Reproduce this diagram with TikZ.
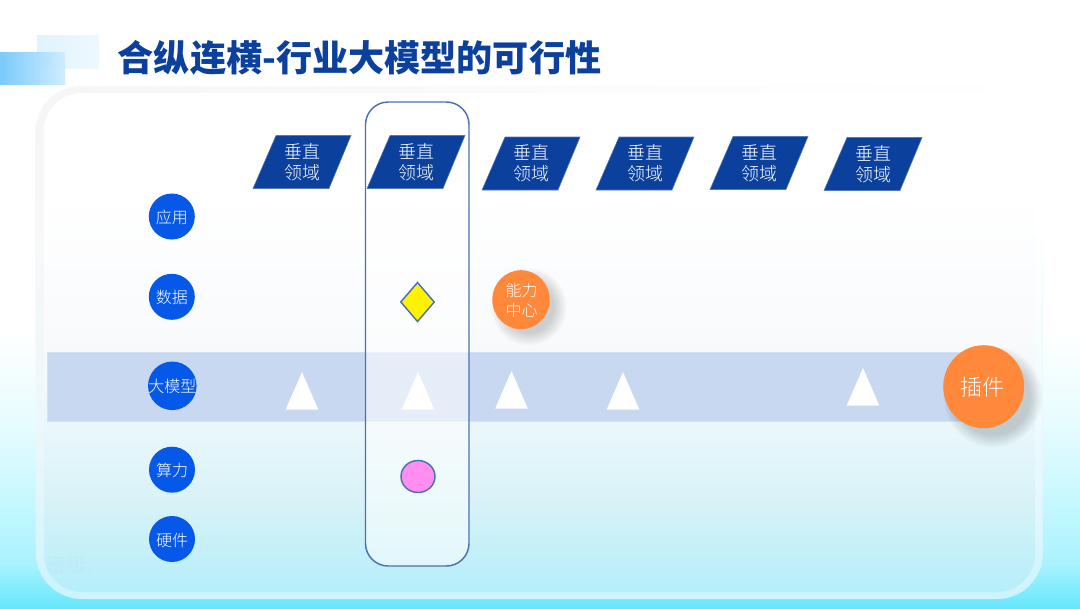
\documentclass[tikz,border=0pt]{standalone}
\usepackage{fontspec}
\usetikzlibrary{fadings}
\setmainfont{Noto Sans CJK SC}
\newfontfamily\thincjk{Noto Sans CJK SC Light}
\definecolor{navy}{HTML}{0B409C}
\definecolor{roundblue}{HTML}{0659E8}
\definecolor{accent}{HTML}{FF883A}
\definecolor{edgeblue}{HTML}{4A72B0}
\definecolor{bandblue}{HTML}{C7D8F0}
\definecolor{banddege}{HTML}{D5E2F5}
\definecolor{HTMLa}{HTML}{66E6FB}
\definecolor{HTMLb}{HTML}{7AEBFC}
\definecolor{HTMLc}{HTML}{AAF2FE}
\definecolor{HTMLd}{HTML}{C8F8FF}
\definecolor{HTMLe}{HTML}{E8FCFF}
\pgfdeclareverticalshading{bgshade}{100bp}{
 color(0bp)=(HTMLa); color(25bp)=(HTMLa); color(26.1bp)=(HTMLb); color(28.7bp)=(HTMLc); color(34.1bp)=(HTMLd); color(40.5bp)=(HTMLe); color(47.9bp)=(white); color(100bp)=(white)}
\definecolor{ringa}{HTML}{CBF4FD}
\definecolor{ringb}{HTML}{E5F9FE}
\definecolor{ringc}{HTML}{F0FCFF}
\pgfdeclareverticalshading{ringshade}{100bp}{
 color(0bp)=(ringa); color(25bp)=(ringa); color(40bp)=(ringb); color(52bp)=(ringc); color(62bp)=(white); color(100bp)=(white)}
\definecolor{pana}{HTML}{B5EEFA}
\definecolor{panb}{HTML}{D7F2F7}
\definecolor{panc}{HTML}{E8F7FB}
\definecolor{pand}{HTML}{F8FAFC}
\pgfdeclareverticalshading{panelshade}{100bp}{
 color(0bp)=(pana); color(25bp)=(pana); color(34bp)=(panb); color(41bp)=(panc); color(50bp)=(pand); color(65bp)=(white); color(100bp)=(white)}
\definecolor{ringgrey}{HTML}{F6F6F6}
\definecolor{backa}{HTML}{E0F3FE}
\definecolor{backb}{HTML}{EEF8FE}
\definecolor{fronta}{HTML}{6FC6FC}
\definecolor{frontb}{HTML}{CDEDFE}
\tikzset{
 vertbox/.style={fill=navy,draw=navy!70!white,line width=0.4pt},
 vertlabel/.style={text=white,font=\thincjk\fontsize{13.5pt}{15.8pt}\selectfont,align=center,inner sep=0pt},
 layerdot/.style={circle,fill=roundblue,minimum size=34.5pt,inner sep=0pt,text=white,text height=10.5pt,text depth=0pt,font=\thincjk\fontsize{12pt}{14pt}\selectfont},
 whitetri/.style={fill=white,draw=none},
 outlined/.style={draw=edgeblue,line width=1.1pt}
}
\begin{document}
\begin{tikzpicture}[x=0.75pt,y=-0.75pt]
\useasboundingbox (0,0) rectangle (1080,608);
% background
\shade[shading=bgshade] (0,0) rectangle (1080,608);
% panel
\shade[shading=ringshade,rounded corners=34.5pt] (36,86) rectangle (1043,599);
\shade[left color=ringgrey,right color=white,path fading=south,rounded corners=34.5pt] (36,86) rectangle (1043,599);
\shade[shading=panelshade,rounded corners=28.5pt] (44,93) rectangle (1035,592);
% decoration
\shade[left color=backa,right color=backb] (37,35) rectangle (99,68);
\shade[left color=fronta,right color=frontb,opacity=0.92] (0,52) rectangle (65,84);
% title
\node[anchor=west,inner sep=0pt,text=navy,font=\fontsize{27.1pt}{30pt}\selectfont\bfseries] (title) at (117.5,58) {合纵连横-行业大模型的可行性};
% faint text
\node[anchor=west,inner sep=0pt,text=black,opacity=0.015,font=\fontsize{15pt}{17pt}\selectfont] (secret) at (46,565) {密级:};
% band
\fill[bandblue,draw=banddege,line width=0.6pt] (47,352) rectangle (965,421);
% triangles
\foreach \ax/\ay in {302/372,418/372,511.5/371,623/372,863/368}
  \fill[whitetri] (\ax,\ay) -- (\ax+16.3,\ay+37.5) -- (\ax-16.3,\ay+37.5) -- cycle;
% column
\draw[edgeblue,line width=1.1pt,fill=white,fill opacity=0.55,rounded corners=17pt] (365.5,102) rectangle (469,566);
% parallelograms and labels
\foreach \n/\cx/\cy in {a/302/162,b/416/162,c/531/163.5,d/645/163.5,e/759/163,f/873/164}{
  \filldraw[vertbox] (\cx-49,\cy+26.5) -- (\cx-26,\cy-26.5) -- (\cx+49,\cy-26.5) -- (\cx+27,\cy+26.5) -- cycle;
  \node[vertlabel] (v\n) at (\cx+0.5,\cy) {垂直\\领域};
}
% layer dots
\node[layerdot] (app) at (171.8,216.5) {应用};
\node[layerdot] (data) at (171.8,296.8) {数据};
\node[layerdot,minimum size=36.4pt] (llm) at (172.3,385.8) {\makebox[0pt]{大模型}};
\node[layerdot] (comp) at (172,469.7) {算力};
\node[layerdot] (hw) at (172,539) {硬件};
% shapes in column
\draw[outlined,fill=yellow] (417.5,282.5) -- (434.2,302) -- (417.5,321.5) -- (400.8,302) -- cycle;
\draw[outlined,fill={rgb,255:red,255;green,142;blue,240}] (418,476.5) ellipse (17 and 16);
% shadows
\foreach \r in {0,1.5,...,12}{
  \fill[black,opacity=0.018] (529,307) ellipse (28.7+\r-3 and 29.5+\r-3);
  \fill[black,opacity=0.018] (993,397) ellipse (40.5+\r-3 and 41.5+\r-3);
}
\fill[accent] (521,299.7) ellipse (28.7 and 29.5);
\node[inner sep=0pt,text=white,align=center,font=\thincjk\fontsize{12pt}{15pt}\selectfont] (center) at (521.5,300.5) {能力\\中心};
\fill[accent] (983.7,386.7) ellipse (40.5 and 41.5);
\node[inner sep=0pt,text=white,font=\thincjk\fontsize{16.5pt}{18pt}\selectfont] (plugin) at (982.5,387) {插件};
\end{tikzpicture}
\end{document}
